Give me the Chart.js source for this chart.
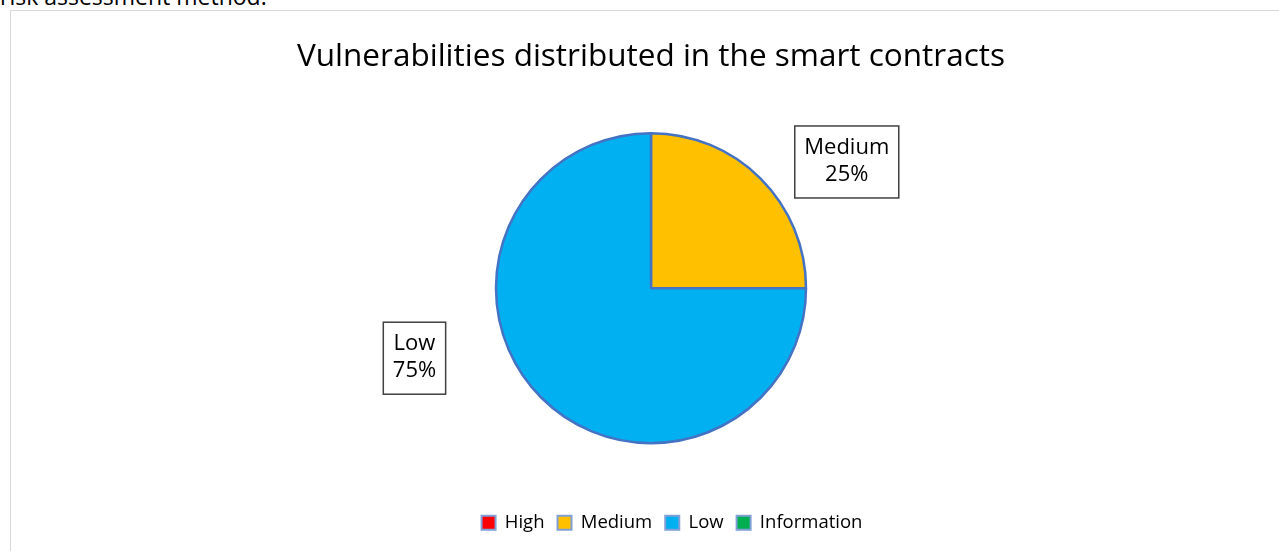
<!DOCTYPE html>
<html lang="en">
<head>
    <meta charset="UTF-8">
    <title>Vulnerabilities distributed in the smart contracts</title>
    <style>
        body {
            margin: 0;
            padding: 0;
            background: #fff;
            overflow: hidden;
            width: 1279px;
            height: 551px;
            position: relative;
            font-family: "Open Sans", "Liberation Sans", sans-serif;
        }

        .above {
            position: absolute;
            left: 0;
            top: -20px;
            font-size: 23px;
            color: #000;
            white-space: nowrap;
        }

        .frame {
            position: absolute;
            left: 10px;
            top: 10px;
            width: 1282px;
            height: 570px;
            border: 1px solid #d9d9d9;
            box-sizing: border-box;
            background: #fff;
        }
    </style>
</head>
<body>
    <div class="above">risk assessment method.</div>
    <div class="frame">
        <canvas id="pie"></canvas>
    </div>
    <script src="https://cdn.jsdelivr.net/npm/chart.js@4.4.1/dist/chart.umd.min.js"></script>
    <script>
        const categories = ['High', 'Medium', 'Low', 'Information'];
        const counts = [0, 1, 3, 0];
        const sliceColors = ['#ff0000', '#ffc000', '#00b0f0', '#00b050'];

        const fontFamily = '"Open Sans", "Liberation Sans", sans-serif';

        // label boxes sit outside the pie, placed relative to the arc centre in units of radius
        const labelSpots = {1: [1.263, -0.814], 2: [-1.526, 0.452]};

        const boxLabels = {
            id: 'boxLabels',
            afterDatasetsDraw(chart) {
                const ctx = chart.ctx;
                const meta = chart.getDatasetMeta(0);
                const total = counts.reduce((a, b) => a + b, 0);
                ctx.save();
                ctx.font = '22px ' + fontFamily;
                ctx.textAlign = 'center';
                ctx.textBaseline = 'middle';
                meta.data.forEach((arc, i) => {
                    if (!counts[i] || !labelSpots[i]) return;
                    const r = arc.outerRadius;
                    const cx = arc.x + labelSpots[i][0] * r;
                    const cy = arc.y + labelSpots[i][1] * r;
                    const lines = [categories[i], Math.round(counts[i] / total * 100) + '%'];
                    const w = Math.max(...lines.map(t => ctx.measureText(t).width)) + 19;
                    const h = 72;
                    ctx.fillStyle = '#fff';
                    ctx.fillRect(cx - w / 2, cy - h / 2, w, h);
                    ctx.strokeStyle = '#404040';
                    ctx.lineWidth = 1.5;
                    ctx.strokeRect(cx - w / 2, cy - h / 2, w, h);
                    ctx.fillStyle = '#000';
                    ctx.fillText(lines[0], cx, cy - 14);
                    ctx.fillText(lines[1], cx, cy + 13);
                });
                ctx.restore();
            }
        };

        // the legend in the original sits a little right of centre
        const nudgeLegend = {
            id: 'nudgeLegend',
            afterLayout(chart) {
                chart.legend.left += 21;
                chart.legend.right += 21;
            }
        };

        const ctx = document.getElementById('pie').getContext('2d');
        new Chart(ctx, {
            type: 'pie',
            data: {
                labels: categories,
                datasets: [{
                    data: counts,
                    backgroundColor: sliceColors,
                    borderColor: '#4472c4',
                    borderWidth: 2.5,
                    radius: 155
                }]
            },
            options: {
                responsive: true,
                maintainAspectRatio: false,
                animation: false,
                layout: {
                    padding: {top: 0, bottom: 37, left: 0, right: 0}
                },
                plugins: {
                    title: {
                        display: true,
                        text: 'Vulnerabilities distributed in the smart contracts',
                        color: '#000',
                        font: {family: fontFamily, size: 31.5, weight: 'normal'},
                        padding: {top: 27, bottom: 0}
                    },
                    legend: {
                        position: 'bottom',
                        labels: {
                            color: '#000',
                            font: {family: fontFamily, size: 18.5},
                            boxWidth: 14,
                            boxHeight: 14,
                            padding: 13,
                            generateLabels(chart) {
                                return categories.map((c, i) => ({
                                    text: c,
                                    fillStyle: sliceColors[i],
                                    strokeStyle: '#7f9fd6',
                                    lineWidth: 2,
                                    hidden: false,
                                    index: i
                                }));
                            }
                        }
                    },
                    tooltip: {enabled: false}
                }
            },
            plugins: [boxLabels, nudgeLegend]
        });
    </script>
</body>
</html>
